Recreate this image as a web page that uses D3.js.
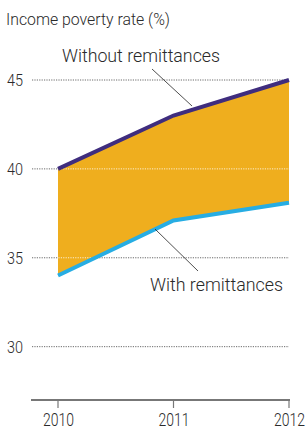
<!DOCTYPE html>
<html><head><meta charset="utf-8">
<script src="https://cdn.jsdelivr.net/npm/d3@7/dist/d3.min.js"></script>
<style>
body{margin:0;background:#fff;}
text{font-family:Roboto,"Liberation Sans",sans-serif;font-weight:300;fill:#2a2a2a;}
</style></head>
<body><svg id="c" width="308" height="429"></svg>
<script>
const years = ["2010","2011","2012"];
const withoutRemit = [40, 43, 45];
const withRemit = [34, 37.1, 38.1];
const yTicks = [30, 35, 40, 45];

const svg = d3.select("#c");
const x = d3.scalePoint().domain(years).range([58, 289]);
const y = d3.scaleLinear().domain([27, 45]).range([400, 80]);

function fit(sel, w) { return sel.attr("textLength", w).attr("lengthAdjust", "spacingAndGlyphs"); }

fit(svg.append("text").attr("x", 6).attr("y", 25).attr("font-size", 17).text("Income poverty rate (%)"), 164);

// gridlines
svg.append("g").selectAll("line").data(yTicks).join("line")
  .attr("x1", 32).attr("x2", 289).attr("y1", d => y(d)).attr("y2", d => y(d))
  .attr("stroke", "#444").attr("stroke-width", 0.8).attr("stroke-dasharray", "1.2,1.2");
fit(svg.append("g").selectAll("text").data(yTicks).join("text")
  .attr("x", 7).attr("y", d => y(d) + 6).attr("font-size", 17).text(d => d), 16);

const data = years.map((yr, i) => ({yr, a: withoutRemit[i], b: withRemit[i]}));
const area = d3.area().x(d => x(d.yr)).y0(d => y(d.b)).y1(d => y(d.a));
svg.append("clipPath").attr("id", "ac").append("path").attr("d", area(data));
svg.append("path").attr("d", area(data)).attr("fill", "#efae1e");
svg.append("g").attr("clip-path", "url(#ac)").selectAll("line").data(yTicks).join("line")
  .attr("x1", 32).attr("x2", 289).attr("y1", d => y(d)).attr("y2", d => y(d))
  .attr("stroke", "#fff").attr("stroke-width", 0.8).attr("stroke-dasharray", "1.2,1.2");

const lineA = d3.line().x(d => x(d.yr)).y(d => y(d.a));
const lineB = d3.line().x(d => x(d.yr)).y(d => y(d.b));
svg.append("path").attr("d", lineA(data)).attr("fill", "none").attr("stroke", "#3f2d7e").attr("stroke-width", 4);
svg.append("path").attr("d", lineB(data)).attr("fill", "none").attr("stroke", "#27ade3").attr("stroke-width", 4);

// labels with leader lines
svg.append("line").attr("x1", 152).attr("y1", 69).attr("x2", 192).attr("y2", 106).attr("stroke", "#222").attr("stroke-width", 0.8);
fit(svg.append("text").attr("x", 62).attr("y", 62).attr("font-size", 19).text("Without remittances"), 158);
svg.append("line").attr("x1", 155).attr("y1", 229).attr("x2", 198).attr("y2", 271).attr("stroke", "#222").attr("stroke-width", 0.8);
fit(svg.append("text").attr("x", 150).attr("y", 291).attr("font-size", 19).text("With remittances"), 133);

// x axis
const ax = svg.append("g").attr("transform", "translate(0,400)");
ax.append("line").attr("x1", 31).attr("x2", 290).attr("stroke", "#777").attr("stroke-width", 2);
ax.selectAll("line.t").data(years).join("line").attr("class", "t")
  .attr("x1", d => x(d)).attr("x2", d => x(d)).attr("y1", 0).attr("y2", 8)
  .attr("stroke", "#777").attr("stroke-width", 1.2);
fit(ax.selectAll("text").data(years).join("text")
  .attr("x", d => x(d) - 15).attr("y", 26).attr("font-size", 18).text(d => d), 31);
</script></body></html>
